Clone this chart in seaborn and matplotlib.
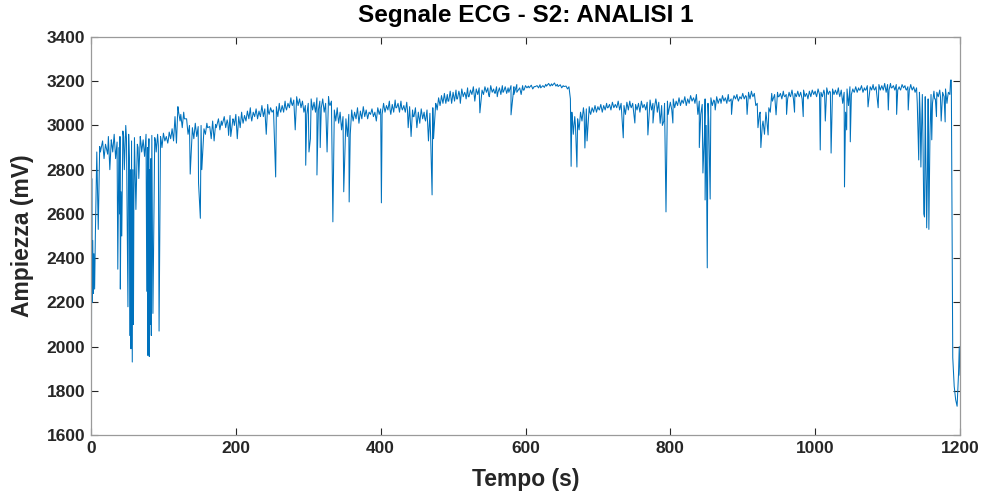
import numpy as np
import pandas as pd
import matplotlib
matplotlib.use("Agg")
import matplotlib.pyplot as plt
import seaborn as sns

# ---- data (time in s, amplitude in mV) ----
# baseline samples every 4 s, t = 0 .. 1196
base_000 = [2750, 2420, 2880, 2905, 2930, 2915, 2950, 2935, 2960, 2925, 2950, 2975, 3000,
            2960, 2930, 2945, 2915, 2950, 2935, 2960, 2940, 2955, 2945, 2960, 2950]
base_100 = [2965, 2950, 2970, 2985, 3040, 3085, 3050, 3060, 3030, 3000, 2990, 3010, 2995,
            3000, 2985, 3010, 2995, 3020, 3005, 3030, 3020, 3040, 3025, 3045, 3030]
base_200 = [3050, 3040, 3060, 3045, 3065, 3080, 3060, 3075, 3065, 3090, 3075, 3095, 3080,
            3070, 3085, 3100, 3090, 3110, 3100, 3125, 3115, 3130, 3120, 3110, 3090]
base_300 = [3100, 3120, 3105, 3125, 3110, 3120, 3100, 3130, 3110, 3070, 3080, 3060, 3040,
            3030, 3050, 3070, 3060, 3080, 3065, 3085, 3070, 3060, 3075, 3060, 3080]
base_400 = [3075, 3100, 3090, 3110, 3095, 3115, 3100, 3110, 3090, 3105, 3085, 3070, 3080,
            3060, 3075, 3060, 3070, 3055, 3080, 3100, 3125, 3135, 3145, 3140, 3155]
base_500 = [3150, 3160, 3155, 3165, 3150, 3170, 3160, 3175, 3165, 3170, 3160, 3175, 3170,
            3180, 3165, 3175, 3170, 3180, 3175, 3170, 3180, 3175, 3185, 3170, 3180]
base_600 = [3180, 3178, 3182, 3176, 3180, 3184, 3180, 3186, 3190, 3188, 3192, 3186, 3184,
            3180, 3178, 3175, 3060, 3040, 3030, 3060, 3080, 3075, 3085, 3080, 3090]
base_700 = [3085, 3095, 3090, 3100, 3095, 3105, 3095, 3110, 3100, 3090, 3105, 3110, 3100,
            3095, 3100, 3110, 3095, 3105, 3115, 3100, 3120, 3105, 3090, 3100, 3110]
base_800 = [3105, 3120, 3110, 3125, 3115, 3130, 3120, 3135, 3125, 3140, 3110, 3095, 3120,
            3100, 3125, 3115, 3130, 3120, 3135, 3125, 3140, 3120, 3135, 3140, 3130]
base_900 = [3145, 3135, 3150, 3155, 3145, 3100, 3060, 3020, 3060, 3080, 3145, 3140, 3150,
            3145, 3155, 3140, 3150, 3160, 3145, 3155, 3150, 3160, 3145, 3155, 3160]
base_1000 = [3155, 3165, 3150, 3160, 3170, 3155, 3165, 3160, 3170, 3160, 3150, 3165, 3175,
             3165, 3175, 3170, 3180, 3170, 3180, 3175, 3185, 3175, 3185, 3180, 3190]
base_1100 = [3185, 3190, 3180, 3185, 3175, 3185, 3180, 3175, 3185, 3175, 3170, 3150, 3140,
             3130, 3120, 3140, 3155, 3150, 3160, 3150, 3165, 3150, 3205, 1820, 1730]
base_end_t = [1200]
base_end_v = [1870]

# deflections (spikes) between baseline samples
dip_t = [0.5, 1.0, 1.6, 2.4, 3.2, 5, 6, 10, 18, 26, 30, 34, 37, 38.5, 39.5, 40.5, 41.5, 42.5, 46,
         51, 53, 53.5, 54.5, 55.2, 56.2, 57, 57.8, 58.6, 59.2, 62, 66, 70, 74,
         77, 78, 78.5, 79.2, 80.5, 81.3, 82, 82.7, 83.3, 85.5, 86, 90, 94, 98,
         102, 106, 110, 114, 118, 126, 134, 137, 142, 146, 148.5, 151, 153, 158, 166, 170,
         178, 186, 190, 193, 198,
         202, 206, 210, 214, 218, 222, 226, 230, 234, 238, 242, 246, 250, 255, 258, 262,
         266, 270, 274, 278, 282, 286, 290, 294, 296.5, 298,
         301, 303, 306, 310, 312, 314, 316.5, 318, 322, 326, 330, 334, 338, 342, 346, 349,
         351, 354, 356.5, 358, 362, 366, 370, 374, 378, 382, 386, 390, 394, 398, 401,
         402, 406, 410, 414, 418, 422, 426, 430, 434, 438, 442, 446, 450, 454, 458, 462,
         466, 469, 471, 473, 478, 482, 486, 490, 494, 498,
         502, 506, 510, 514, 518, 522, 526, 530, 534, 537, 542, 546, 550, 554, 558, 562,
         566, 570, 574, 580, 584, 588, 594, 598,
         602, 610, 618, 626, 634, 642, 650, 658, 662, 663, 665, 666, 669, 671, 673, 674,
         678, 682, 685, 690, 694, 698,
         702, 706, 710, 714, 718, 722, 726, 730, 735, 738, 742, 746, 751, 754, 758, 762,
         766, 769, 774, 776, 778, 782, 786, 789, 791, 794, 797, 802, 803.5,
         806, 810, 814, 818, 822, 826, 830, 834, 838, 840, 842, 845, 847, 848, 849.5, 851,
         853, 855, 858, 862, 866, 870, 874, 878, 882, 884.5, 886, 890, 894, 898,
         902, 906, 910, 914, 918, 921, 923, 925, 927, 930, 933, 935, 938, 942, 946, 950,
         954, 958, 960.5, 962, 966, 970, 971.5, 974, 978, 982, 983.5, 986, 990, 994, 998,
         1002, 1006, 1007, 1010, 1014, 1018, 1022, 1026, 1030, 1034, 1038, 1040.5, 1042,
         1043.5, 1046, 1048.5, 1050, 1054, 1058, 1062, 1066, 1070, 1073, 1078, 1082, 1087,
         1090, 1094, 1098, 1101,
         1102, 1106, 1110, 1112.5, 1114, 1118, 1122, 1126, 1128.5, 1130, 1134, 1138, 1141,
         1143, 1145, 1146, 1147, 1149, 1150, 1151, 1152.5, 1154, 1155.5, 1157, 1158.5, 1161,
         1162, 1166, 1167.5, 1170, 1174, 1178, 1179.5, 1182, 1186, 1187, 1190, 1194, 1198,
         1199]
dip_v = [1650, 2760, 2200, 2480, 2240, 2260, 2500, 2530, 2850, 2800, 2880, 2850, 2350, 2900, 2600,
         2260, 2700, 2500, 2800,
         2180, 2850, 2050, 2800, 1990, 2750, 1930, 2800, 2100, 2650, 2620, 2760, 2880, 2860,
         2250, 2900, 1960, 2850, 1955, 2800, 2100, 2850, 2050, 2150, 2300, 2880, 2070, 2900,
         2930, 2920, 2940, 2930, 2920, 2990, 2960, 2780, 2940, 2950, 2740, 2580, 2800, 2960,
         2940, 2930, 2980, 2990, 2955, 2950, 3000,
         2940, 2990, 3010, 3020, 3030, 3020, 3040, 3030, 3040, 3040, 2960, 3050, 3060, 2767,
         3040, 3060, 3060, 3070, 3080, 3090, 2980, 3090, 3080, 3060, 2820, 3050,
         2880, 2940, 3070, 3060, 2776, 3070, 2900, 3080, 3060, 2880, 3090, 2564, 3020, 3010,
         2980, 2700, 2930, 2950, 2654, 2960, 3020, 3030, 3010, 3030, 3040, 3030, 3050, 3040,
         3020, 3050, 2650,
         3050, 3060, 3070, 3050, 3060, 3080, 3060, 3070, 3060, 2990, 2950, 3040, 2990, 3010,
         3030, 3020, 2930, 2950, 2686, 2940, 3070, 3090, 3100, 3100, 3110, 3100,
         3110, 3120, 3100, 3130, 3120, 3130, 3140, 3110, 3140, 3057, 3140, 3150, 3130, 3150,
         3145, 3150, 3140, 3155, 3145, 3048, 3140, 3150, 3140, 3160,
         3170, 3165, 3170, 3172, 3178, 3178, 3170, 3165, 3120, 2815, 3020, 2960, 3000, 2812,
         3000, 2980, 3020, 2898, 2930, 3050, 3060, 3060,
         3070, 3060, 3070, 3080, 3070, 3080, 3080, 3070, 2944, 3050, 3070, 3080, 3011, 3070,
         3060, 3080, 3070, 2957, 3070, 3011, 3080, 3060, 3010, 3000, 3020, 2609, 3050, 3070,
         3011,
         3080, 3090, 3090, 3100, 3090, 3100, 3110, 3100, 3050, 2900, 3050, 2785, 2950, 2663,
         3000, 2356, 3020, 2667, 3090, 3070, 3100, 3100, 3110, 3100, 3110, 3050, 3110, 3120,
         3110, 3120,
         3120, 3050, 3120, 3130, 3090, 2990, 3050, 2900, 3000, 2960, 3030, 2957, 3060, 3120,
         3048, 3130, 3120, 3130, 3050, 3120, 3130, 3120, 3060, 3130, 3130, 3120, 3040, 3130,
         3120, 3130, 3140,
         3130, 3140, 2889, 3130, 3020, 3140, 2875, 3140, 3140, 3130, 3100, 2722, 3060, 2980,
         3090, 2926, 3140, 3150, 3150, 3160, 3150, 3160, 3084, 3160, 3160, 3080, 3160, 3160,
         3150, 3070,
         3160, 3170, 3160, 3050, 3160, 3160, 3170, 3160, 3070, 3160, 3160, 3150, 3100, 2844,
         3050, 2812, 3000, 2900, 2600, 2586, 2950, 2537, 2900, 2530, 2950, 2935, 3100, 3120,
         3040, 3130, 3020, 3130, 3016, 3100, 3140, 3205, 1950, 1760, 1880, 2000]

# extra small ripples in the denser stretches
fine_t = [13, 21, 23, 29, 45, 49, 65, 69, 73, 89, 93, 97, 107, 111, 121, 123, 129, 161,
          173, 181, 189, 197, 209, 221, 233, 245, 261, 269, 277, 289, 309, 329, 341, 361,
          381, 413, 421, 429, 437, 445, 461, 477, 483, 489, 493, 505, 509, 517, 521, 529,
          541, 549, 557, 561, 569, 577, 589, 597, 605, 613, 621, 629, 637, 645, 653, 681,
          689, 701, 713, 729, 745, 761, 781, 809, 821, 833, 861, 869, 881, 893, 905, 913,
          941, 949, 957, 965, 977, 989, 1001, 1013, 1021, 1033, 1053, 1061, 1069, 1081,
          1093, 1105, 1117, 1125, 1133, 1165, 1173, 1177, 1183]
fine_v = [2880, 2900, 2870, 2910, 2950, 2940, 2900, 2920, 2900, 2930, 2910, 2930, 2940,
          2960, 3060, 3020, 3030, 2990, 2990, 3000, 3010, 3020, 3030, 3040, 3050, 3060,
          3070, 3080, 3100, 3100, 3080, 3100, 3040, 3040, 3050, 3070, 3080, 3080, 3070,
          3040, 3030, 3090, 3110, 3120, 3110, 3120, 3140, 3140, 3130, 3140, 3150, 3140,
          3150, 3130, 3150, 3150, 3155, 3160, 3170, 3175, 3170, 3178, 3180, 3176, 3176,
          3050, 3060, 3075, 3080, 3090, 3090, 3095, 3100, 3100, 3110, 3115, 3110, 3120,
          3110, 3120, 3130, 3140, 3110, 3130, 3135, 3135, 3140, 3135, 3140, 3145, 3150,
          3145, 3155, 3160, 3160, 3165, 3170, 3170, 3165, 3165, 3170, 3120, 3130, 3140,
          3130]

base_v = (base_000 + base_100 + base_200 + base_300 + base_400 + base_500 + base_600 +
          base_700 + base_800 + base_900 + base_1000 + base_1100 + base_end_v)
base_t = list(range(0, 1200, 4)) + base_end_t

df = pd.DataFrame({"t": base_t + dip_t + fine_t, "v": base_v + dip_v + fine_v})
df = df.sort_values("t", kind="stable").reset_index(drop=True)

x_ticks = [0, 200, 400, 600, 800, 1000, 1200]
y_ticks = [1600, 1800, 2000, 2200, 2400, 2600, 2800, 3000, 3200, 3400]

# ---- plot ----
sns.set_theme(style="white")
plt.rcParams["font.family"] = ["Liberation Sans", "DejaVu Sans"]

fig = plt.figure(figsize=(9.85, 4.97), dpi=100)
ax = fig.add_axes([91 / 985, 62 / 497, 869 / 985, 398 / 497])

sns.lineplot(data=df, x="t", y="v", ax=ax, estimator=None, sort=False,
             color="#0072BD", linewidth=0.75)

ax.set_xlim(0, 1200)
ax.set_ylim(1600, 3400)
ax.set_xticks(x_ticks)
ax.set_yticks(y_ticks)
ax.set_xticklabels([str(v) for v in x_ticks], fontsize=12.5, fontweight="bold", color="#262626")
ax.set_yticklabels([str(v) for v in y_ticks], fontsize=12.5, fontweight="bold", color="#262626")
ax.tick_params(direction="in", length=5, width=0.8, color="#262626",
               top=True, right=True, bottom=True, left=True, pad=4)
for s in ax.spines.values():
    s.set_visible(True)
    s.set_color("#9a9a9a")
    s.set_linewidth(0.9)

ax.set_xlabel("Tempo (s)", fontsize=16.5, fontweight="bold", labelpad=9, color="#262626")
ax.set_ylabel("Ampiezza (mV)", fontsize=16.5, fontweight="bold", labelpad=9, color="#262626")
ax.set_title("Segnale ECG - S2: ANALISI 1", fontsize=17.5, fontweight="bold", pad=11, color="#000000")
ax.grid(False)

fig.savefig("out.png", dpi=100, facecolor="white")
